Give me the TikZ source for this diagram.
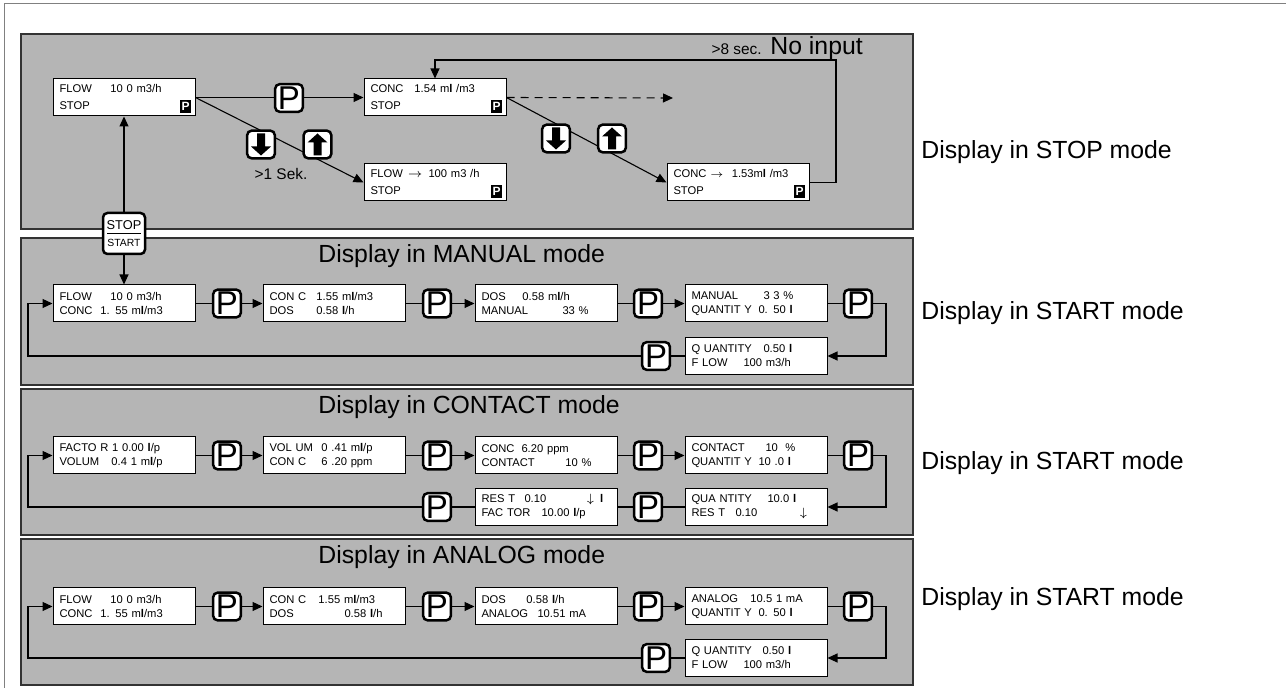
\documentclass[tikz,border=0pt]{standalone}
\usepackage{fontspec}
\setmainfont{Liberation Sans}
\usetikzlibrary{arrows.meta, positioning}

\newdimen\pxunit \pxunit=0.5pt
\newcommand{\dl}[3]{\makebox[#1\pxunit][l]{#2}#3}
\newcommand{\lit}{\textbf{l}}
\newcommand{\boxfont}{\fontsize{5.6}{7}\selectfont}
\newcommand{\stopfont}{\fontsize{5.6}{8.5}\selectfont}
\definecolor{panelgray}{gray}{0.71}

\begin{document}
\begin{tikzpicture}[
    x=0.5pt, y=-0.5pt,
    panel/.style={fill=panelgray, draw=black!80, line width=0.6pt},
    dispbox/.style={draw, fill=white, line width=0.5pt, minimum width=71pt, minimum height=18.5pt, inner xsep=3.25pt, inner ysep=0pt, text width=64.5pt, align=left, font=\boxfont},
    stopbox/.style={dispbox, font=\stopfont},
    pbadge/.style={fill=black, text=white, inner sep=0pt, minimum width=5.5pt, minimum height=6.5pt, font=\bfseries\fontsize{6}{6}\selectfont},
    pkey/.style={draw, fill=white, rounded corners=2.2pt, line width=1.25pt, minimum size=13.8pt, inner sep=0pt, font=\fontsize{16.5}{16.5}\selectfont},
    sskey/.style={pkey, minimum width=21pt, minimum height=20.5pt},
    conn/.style={line width=0.55pt},
    arr/.style={conn, -{Triangle[length=5pt, width=4.5pt]}},
    title/.style={font=\fontsize{12.4}{14}\selectfont, anchor=base west, inner sep=0pt},
    modelbl/.style={font=\fontsize{12.4}{14}\selectfont, anchor=west, inner sep=0pt},
    note/.style={font=\fontsize{7.7}{9}\selectfont, inner sep=0pt},
    dnglyph/.pic={\fill (-4,-11) -- (4,-11) -- (4,2) -- (10,2) -- (0,11) -- (-10,2) -- (-4,2) -- cycle;}
  ]
  \useasboundingbox (0,0) rectangle (1286,688);
  \draw[black!50, line width=0.5pt] (4,688) -- (4,4) -- (1286,4);

  % panels
  \filldraw[panel] (21,34) rectangle (913,229);
  \filldraw[panel] (21,238) rectangle (913,385);
  \filldraw[panel] (21,389) rectangle (913,535);
  \filldraw[panel] (21,539) rectangle (913,685);

  \node[title] (ttlman) at (318,263) {Display in MANUAL mode};
  \node[title] (ttlcon) at (318,414) {Display in CONTACT mode};
  \node[title] (ttlana) at (318,564) {Display in ANALOG mode};

  \node[modelbl] (lblstop) at (921,152) {Display in STOP mode};
  \node[modelbl] (lblman) at (921,313) {Display in START mode};
  \node[modelbl] (lblcon) at (921,463) {Display in START mode};
  \node[modelbl] (lblana) at (921,599) {Display in START mode};

  % STOP mode
  \node[stopbox] (b1) at (124,97.5) {\dl{51}{FLOW}{10 0 m3/h}\\STOP};
  \node[stopbox] (b2) at (435,97.5) {\dl{44}{CONC}{1.54 m\lit\ /m3}\\STOP};
  \node[stopbox] (b3) at (435,182.5) {FLOW\hspace{2.5pt}$\rightarrow$\hspace{3pt}100 m3 /h\\STOP};
  \node[stopbox] (b4) at (738,182.5) {CONC {\fontsize{4}{4}\selectfont$\rightarrow$}\hspace{4pt}1.53m\lit\ /m3\\STOP};
  \node[pbadge, anchor=south east] (b1p) at ([shift={(-4,-3)}]b1.south east) {P};
  \node[pbadge, anchor=south east] (b2p) at ([shift={(-4,-3)}]b2.south east) {P};
  \node[pbadge, anchor=south east] (b3p) at ([shift={(-4,-3)}]b3.south east) {P};
  \node[pbadge, anchor=south east] (b4p) at ([shift={(-4,-3)}]b4.south east) {P};
  \coordinate (dashend) at (673,98);
  \coordinate (fbc) at (836,60);

  % MANUAL mode
  \node[dispbox] (m1) at (124,303.5) {\dl{51}{FLOW}{10 0 m3/h}\\\dl{41}{CONC}{1. 55 m\lit/m3}};
  \node[dispbox] (m2) at (334,303.5) {\dl{47}{CON C}{1.55 m\lit/m3}\\\dl{47}{DOS}{0.58 \lit/h}};
  \node[dispbox] (m3) at (546,303.5) {\dl{41}{DOS}{0.58 m\lit/h}\\\dl{81}{MANUAL}{33 \%}};
  \node[dispbox] (m4) at (756,303.5) {\dl{72}{MANUAL}{3 3 \%}\\\dl{67}{QUANTIT Y}{0. 50 \lit}};
  \node[dispbox] (m5) at (756,356) {\dl{72}{Q UANTITY}{0.50 \lit}\\\dl{52}{F LOW}{100 m3/h}};
  \coordinate (mr) at (886,330);
  \coordinate (ml) at (28,330);

  % CONTACT mode
  \node[dispbox] (c1) at (124,455.5) {FACTO R 1 0.00 \lit/p\\\dl{52}{VOLUM}{0.4 1 m\lit/p}};
  \node[dispbox] (c2) at (334,455.5) {\dl{52}{VOL UM}{0 .41 m\lit/p}\\\dl{52}{CON C}{6 .20 ppm}};
  \node[dispbox] (c3) at (546,455.5) {\dl{40}{CONC}{6.20 ppm}\\\dl{84}{CONTACT}{10 \%}};
  \node[dispbox] (c4) at (756,455.5) {\dl{74}{CONTACT}{10 \ \%}\\\dl{67}{QUANTIT Y}{10 .0 \lit}};
  \node[dispbox] (c5) at (756,507) {\dl{76}{QUA NTITY}{10.0 \lit}\\\dl{108}{\dl{44}{RES T}{0.10}}{$\downarrow$}};
  \node[dispbox] (c6) at (546,507) {\dl{105}{\dl{43}{RES T}{0.10}}{$\downarrow$\hspace{3pt}\lit}\\\dl{60}{FAC TOR}{10.00 \lit/p}};
  \coordinate (cr) at (886,480);
  \coordinate (cl) at (28,480);

  % ANALOG mode
  \node[dispbox] (a1) at (124,606.5) {\dl{51}{FLOW}{10 0 m3/h}\\\dl{41}{CONC}{1. 55 m\lit/m3}};
  \node[dispbox] (a2) at (334,606.5) {\dl{49}{CON C}{1.55 m\lit/m3}\\\dl{75}{DOS}{0.58 \lit/h}};
  \node[dispbox] (a3) at (546,606.5) {\dl{45}{DOS}{0.58 \lit/h}\\\dl{56}{ANALOG}{10.51 mA}};
  \node[dispbox] (a4) at (756,606.5) {\dl{59}{ANALOG}{10.5 1 mA}\\\dl{67}{QUANTIT Y}{0. 50 \lit}};
  \node[dispbox] (a5) at (756,658) {\dl{71}{Q UANTITY}{0.50 \lit}\\\dl{52}{F LOW}{100 m3/h}};
  \coordinate (ar) at (886,632);
  \coordinate (al) at (28,632);

  % connectors
  \draw[arr] (b1.east) -- (b2.west);
  \draw[arr] (b1.east) -- (b3.west);
  \draw[arr, dash pattern=on 4pt off 3pt] (b2.east) -- (dashend);
  \draw[arr] (b2.east) -- (b4.west);
  \draw[arr] (b4.east) -| (fbc) -| (b2.north);

  \draw[arr] (m1) -- (m2);
  \draw[arr] (m2) -- (m3);
  \draw[arr] (m3) -- (m4);
  \draw[arr] (m4.east) -| (mr) |- (m5.east);
  \draw[arr] (m5.west) -| (ml) |- (m1.west);

  \draw[arr] (c1) -- (c2);
  \draw[arr] (c2) -- (c3);
  \draw[arr] (c3) -- (c4);
  \draw[arr] (c4.east) -| (cr) |- (c5.east);
  \draw[conn] (c5) -- (c6);
  \draw[arr] (c6.west) -| (cl) |- (c1.west);

  \draw[arr] (a1) -- (a2);
  \draw[arr] (a2) -- (a3);
  \draw[arr] (a3) -- (a4);
  \draw[arr] (a4.east) -| (ar) |- (a5.east);
  \draw[arr] (a5.west) -| (al) |- (a1.west);

  % keys
  \node[pkey] (pb1) at (289,98) {P};
  \node[pkey] (kd1) at (261,144.5) {};
  \node[pkey] (ku1) at (317.5,144.5) {};
  \node[pkey] (kd2) at (556,138.5) {};
  \node[pkey] (ku2) at (612,138.5) {};
  \pic at (kd1.center) {dnglyph};
  \pic[rotate=180] at (ku1.center) {dnglyph};
  \pic at (kd2.center) {dnglyph};
  \pic[rotate=180] at (ku2.center) {dnglyph};
  \node[note] (onesec) at (281,174) {>1 Sek.};
  \node[title, anchor=base west] (noinput) at (770,55) {No input};
  \node[note, anchor=base east] (eightsec) at ([xshift=-4pt]noinput.base west) {>8 sec.};

  \node[sskey] (ss) at (124,233.5) {};
  \node[inner sep=0pt, font=\fontsize{6.4}{6.4}\selectfont] (sstop) at (124,225) {STOP};
  \node[inner sep=0pt, font=\fontsize{5.2}{5.2}\selectfont] (sstart) at (124,242.5) {START};
  \draw[line width=0.7pt] (107,233.3) -- (141,233.3);
  \draw[arr] (ss.north) -- (b1.south);
  \draw[arr] (ss.south) -- (m1.north);

  \node[pkey] (pm1) at (227,303.5) {P};
  \node[pkey] (pm2) at (437,303.5) {P};
  \node[pkey] (pm3) at (648,303.5) {P};
  \node[pkey] (pm4) at (858,303.5) {P};
  \node[pkey] (pm5) at (656,356) {P};

  \node[pkey] (pc1) at (227,455.5) {P};
  \node[pkey] (pc2) at (437,455.5) {P};
  \node[pkey] (pc3) at (648,455.5) {P};
  \node[pkey] (pc4) at (858,455.5) {P};
  \node[pkey] (pc5) at (648,507) {P};
  \node[pkey] (pc6) at (437,507) {P};

  \node[pkey] (pa1) at (227,606.5) {P};
  \node[pkey] (pa2) at (437,606.5) {P};
  \node[pkey] (pa3) at (648,606.5) {P};
  \node[pkey] (pa4) at (858,606.5) {P};
  \node[pkey] (pa5) at (656,658) {P};
\end{tikzpicture}
\end{document}
